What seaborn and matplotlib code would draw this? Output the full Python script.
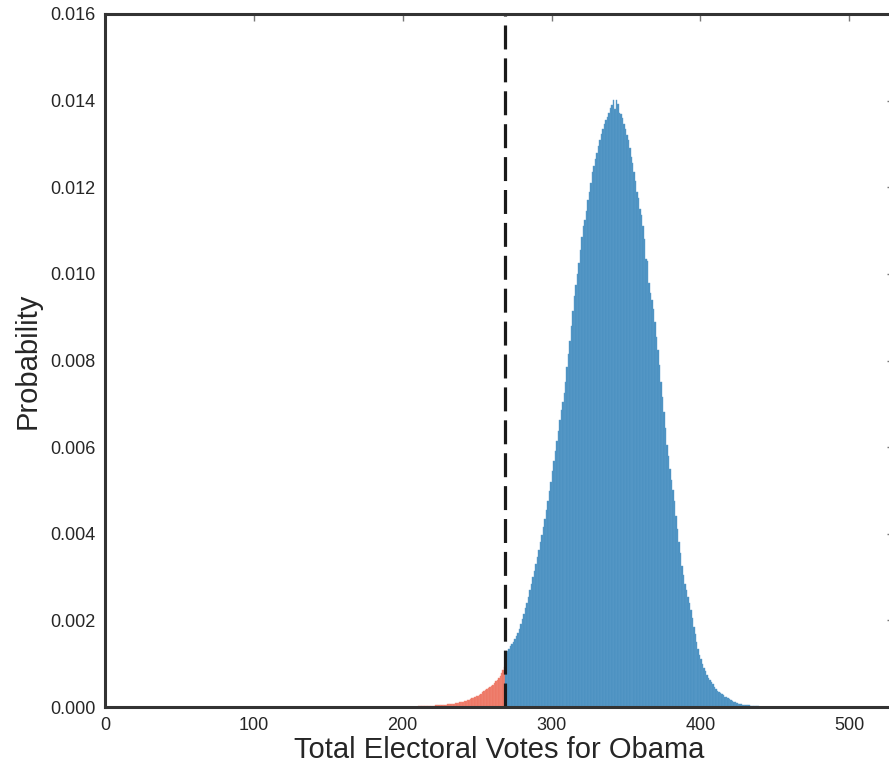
import numpy as np
import pandas as pd
import seaborn as sns
import matplotlib
matplotlib.use("Agg")
import matplotlib.pyplot as plt

# electoral vote totals (one bin per vote) and simulated probability, in units of 1e-3
votes = list(range(205, 441))
prob_permille = [
    # 205-209
    0.006, 0.007, 0.008, 0.009, 0.010,
    # 210-219
    0.012, 0.013, 0.015, 0.017, 0.019, 0.021, 0.023, 0.025, 0.028, 0.030,
    # 220-229
    0.032, 0.034, 0.036, 0.038, 0.040, 0.043, 0.046, 0.049, 0.052, 0.055,
    # 230-239
    0.060, 0.065, 0.070, 0.075, 0.080, 0.086, 0.093, 0.100, 0.108, 0.116,
    # 240-249
    0.125, 0.135, 0.147, 0.160, 0.172, 0.185, 0.200, 0.216, 0.232, 0.248,
    # 250-259
    0.265, 0.287, 0.310, 0.335, 0.360, 0.385, 0.410, 0.435, 0.460, 0.485,
    # 260-268
    0.510, 0.550, 0.590, 0.630, 0.670, 0.715, 0.775, 0.845, 0.930,
    # 269-279
    1.25, 1.30, 1.34, 1.40, 1.45, 1.50, 1.57, 1.64, 1.72, 1.80, 1.92,
    # 280-289
    2.03, 2.15, 2.28, 2.40, 2.55, 2.70, 2.85, 3.00, 3.15, 3.30,
    # 290-299
    3.47, 3.63, 3.80, 3.98, 4.15, 4.35, 4.55, 4.75, 4.98, 5.20,
    # 300-309
    5.45, 5.68, 5.92, 6.15, 6.38, 6.62, 6.85, 7.05, 7.25, 7.50,
    # 310-319
    7.85, 8.15, 8.45, 8.80, 9.15, 9.50, 9.75, 10.00, 10.25, 10.55,
    # 320-329
    10.85, 11.10, 11.25, 11.45, 11.70, 11.90, 12.10, 12.35, 12.50, 12.65,
    # 330-339
    12.80, 12.95, 13.10, 13.22, 13.35, 13.45, 13.55, 13.62, 13.72, 13.82,
    # 340-349
    13.90, 14.02, 13.80, 14.02, 13.92, 13.72, 13.68, 13.60, 13.45, 13.35,
    # 350-359
    13.20, 13.10, 12.90, 12.70, 12.55, 12.35, 12.15, 11.90, 11.75, 11.50,
    # 360-369
    11.35, 11.10, 10.80, 10.35, 10.30, 9.80, 9.55, 9.40, 9.20, 8.90,
    # 370-379
    8.55, 8.25, 7.90, 7.50, 7.15, 6.80, 6.45, 6.05, 5.80, 5.50,
    # 380-389
    5.25, 5.00, 4.75, 4.40, 4.10, 3.80, 3.55, 3.25, 3.05, 2.85,
    # 390-399
    2.70, 2.55, 2.40, 2.25, 2.05, 1.85, 1.68, 1.50, 1.35, 1.20,
    # 400-409
    1.10, 1.00, 0.91, 0.82, 0.75, 0.68, 0.63, 0.58, 0.52, 0.46,
    # 410-419
    0.42, 0.38, 0.35, 0.32, 0.29, 0.27, 0.24, 0.22, 0.20, 0.18,
    # 420-429
    0.16, 0.14, 0.125, 0.11, 0.095, 0.08, 0.07, 0.06, 0.055, 0.05,
    # 430-440
    0.045, 0.04, 0.035, 0.03, 0.025, 0.02, 0.017, 0.015, 0.012, 0.01, 0.005,
]
threshold = 269
xticks = [0, 100, 200, 300, 400, 500]
yticks = [0.000, 0.002, 0.004, 0.006, 0.008, 0.010, 0.012, 0.014, 0.016]

df = pd.DataFrame({"votes": votes, "prob": np.array(prob_permille) / 1000.0})
lose = df[df.votes < threshold]
win = df[df.votes >= threshold]

sns.set_style("white")
plt.rcParams["font.family"] = ["Liberation Sans", "DejaVu Sans"]

fig = plt.figure(figsize=(8.89, 7.65), dpi=100)
ax = fig.add_axes([105 / 889, 58 / 765, (894 - 105) / 889, 693 / 765])

sns.histplot(data=lose, x="votes", weights="prob", binwidth=1,
             binrange=(lose.votes.min(), threshold), color="#ec7461",
             edgecolor="#f28b7a", linewidth=0.3, alpha=1, ax=ax)
sns.histplot(data=win, x="votes", weights="prob", binwidth=1,
             binrange=(threshold, win.votes.max() + 1), color="#4990c0",
             edgecolor="#5e9ecb", linewidth=0.3, alpha=1, ax=ax)

ax.axvline(threshold, color="#1a1a1a", lw=2.3, linestyle=(0, (7.5, 2.8)))

ax.set_xlim(0, 530)
ax.set_ylim(0, 0.016)
ax.set_xticks(xticks)
ax.set_yticks(yticks)
ax.set_yticklabels(["%.3f" % v for v in yticks])
ax.tick_params(direction="in", length=5, width=1, color="#777777",
               top=True, right=True, labelsize=13, pad=7)
for s in ax.spines.values():
    s.set_color("#333333")
    s.set_linewidth(2.2)

ax.set_xlabel("Total Electoral Votes for Obama", fontsize=21, labelpad=2)
ax.set_ylabel("Probability", fontsize=21, labelpad=6)

plt.savefig("out.png", dpi=100)
